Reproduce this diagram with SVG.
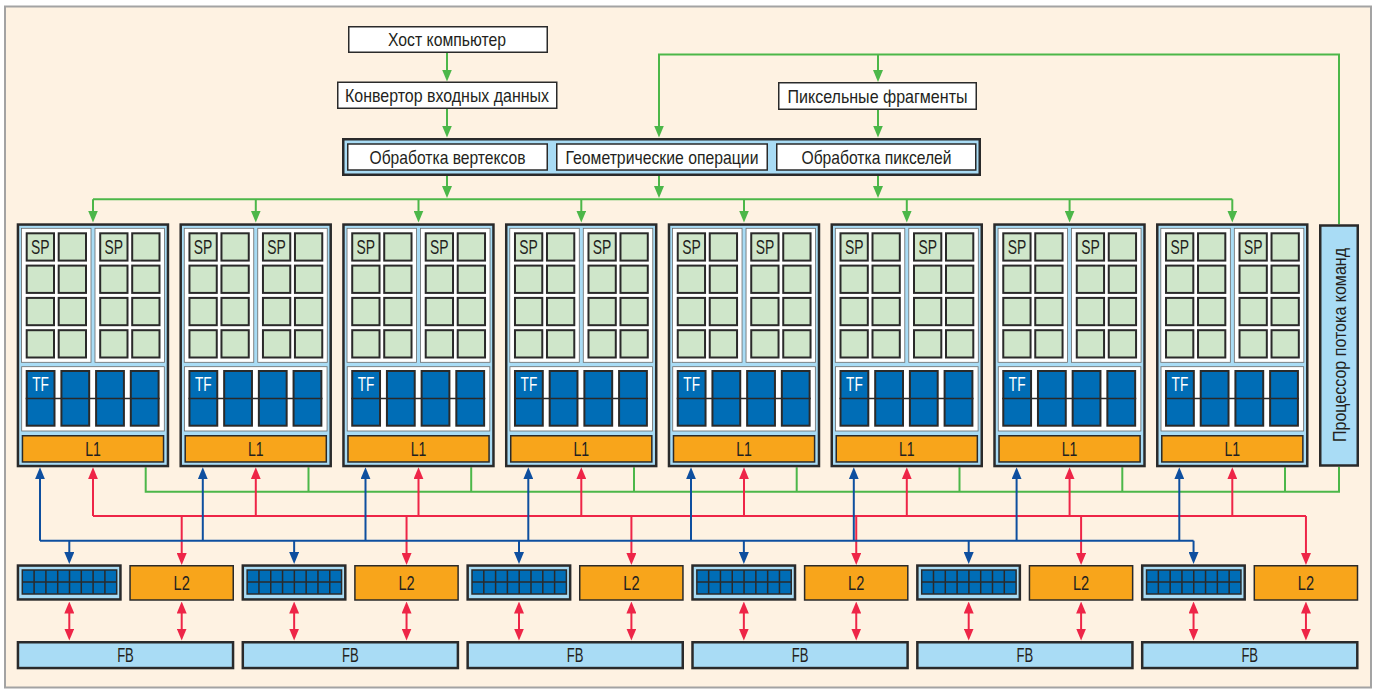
<svg xmlns="http://www.w3.org/2000/svg" width="1375" height="689" viewBox="0 0 1375 689">
  <style>
    .wbox { fill: #ffffff; stroke: #2a2a2a; stroke-width: 1.5; }
    .lbox { fill: #a9dcf5; stroke: #2a2a2a; stroke-width: 2.5; }
    .half { fill: #ffffff; stroke: #6a6a6a; stroke-width: 0.8; }
    .sq { fill: #cfe6ca; stroke: #2a2a2a; stroke-width: 2; }
    .cell { fill: #006db6; stroke: #2a2a2a; stroke-width: 2; }
    .grid { fill: #006db6; stroke: #2a2a2a; stroke-width: 1.5; }
    .gline { fill: none; stroke: #2a2a2a; stroke-width: 1.5; }
    .org { fill: #f8a51b; stroke: #2a2a2a; stroke-width: 1.5; }
    .cg { fill: none; stroke: #4cb749; stroke-width: 2; }
    .cb { fill: none; stroke: #0e4f9f; stroke-width: 2; }
    .cr { fill: none; stroke: #ee2547; stroke-width: 2; }
    text { font-family: "Liberation Sans", Arial, sans-serif; font-size: 18.5px; fill: #231f20; text-anchor: middle; }
    text.s { font-size: 19.5px; }
    text.wt { fill: #ffffff; }
  </style>
  <defs>
    <marker id="ah-g" viewBox="0 0 12 10" refX="6" refY="5" markerWidth="12" markerHeight="10" markerUnits="userSpaceOnUse" orient="auto-start-reverse">
      <path d="M0,0 L12,5 L0,10 z" fill="#4cb749"/>
    </marker>
    <marker id="ah-b" viewBox="0 0 12 10" refX="6" refY="5" markerWidth="12" markerHeight="10" markerUnits="userSpaceOnUse" orient="auto-start-reverse">
      <path d="M0,0 L12,5 L0,10 z" fill="#0e4f9f"/>
    </marker>
    <marker id="ah-r" viewBox="0 0 12 10" refX="6" refY="5" markerWidth="12" markerHeight="10" markerUnits="userSpaceOnUse" orient="auto-start-reverse">
      <path d="M0,0 L12,5 L0,10 z" fill="#ee2547"/>
    </marker>

    <!-- streaming multiprocessor cluster: 2x8 SP, 4 TF units, L1 -->
    <g id="sm-body">
      <rect class="lbox" x="1.25" y="1.25" width="150" height="241.5"/>
      <rect class="half" x="4.8" y="5" width="69.5" height="134"/>
      <rect class="half" x="78.3" y="5" width="69.5" height="134"/>
      <g class="sq">
        <rect x="10" y="10" width="27.3" height="27.3"/>
        <rect x="42" y="10" width="27.3" height="27.3"/>
        <rect x="83.5" y="10" width="27.3" height="27.3"/>
        <rect x="115.5" y="10" width="27.3" height="27.3"/>
        <rect x="10" y="42.3" width="27.3" height="27.3"/>
        <rect x="42" y="42.3" width="27.3" height="27.3"/>
        <rect x="83.5" y="42.3" width="27.3" height="27.3"/>
        <rect x="115.5" y="42.3" width="27.3" height="27.3"/>
        <rect x="10" y="74.6" width="27.3" height="27.3"/>
        <rect x="42" y="74.6" width="27.3" height="27.3"/>
        <rect x="83.5" y="74.6" width="27.3" height="27.3"/>
        <rect x="115.5" y="74.6" width="27.3" height="27.3"/>
        <rect x="10" y="106.9" width="27.3" height="27.3"/>
        <rect x="42" y="106.9" width="27.3" height="27.3"/>
        <rect x="83.5" y="106.9" width="27.3" height="27.3"/>
        <rect x="115.5" y="106.9" width="27.3" height="27.3"/>
      </g>
      <rect class="half" x="5" y="143.4" width="142.6" height="64.3"/>
      <g class="cell">
        <rect x="10" y="147.7" width="27.8" height="54.7"/>
        <rect x="44.7" y="147.7" width="27.8" height="54.7"/>
        <rect x="79.4" y="147.7" width="27.8" height="54.7"/>
        <rect x="114.1" y="147.7" width="27.8" height="54.7"/>
      </g>
      <path class="gline" d="M9,175.2 H143"/>
      <rect class="org" x="5.75" y="212.45" width="141.1" height="26.2"/>
    </g>

    <!-- memory controller block with 8x2 grid -->
    <g id="mc-body">
      <rect class="lbox" x="1.25" y="565.55" width="102.5" height="33.9"/>
      <rect class="grid" x="5.6" y="570" width="94.4" height="24"/>
      <path class="gline" d="M17.4,570V594 M29.2,570V594 M41,570V594 M52.8,570V594 M64.6,570V594 M76.4,570V594 M88.2,570V594 M5.6,582H100"/>
    </g>
  </defs>

  <!-- page -->
  <rect x="0" y="0" width="1375" height="689" fill="#ffffff"/>
  <rect x="5" y="6.5" width="1366" height="681" fill="#fef2e2" stroke="#a3a3a3" stroke-width="2"/>

  <!-- connectors -->
  <g id="connectors">
    <!-- green: control flow -->
    <g class="cg" marker-end="url(#ah-g)">
      <path d="M447,53 V75.5"/>
      <path d="M447,109 V131.5"/>
      <path d="M878,54.5 V76"/>
      <path d="M878,110 V131.5"/>
      <path d="M447,176 V192"/>
      <path d="M659,176 V192"/>
      <path d="M878,176 V192"/>
      <path d="M93,199.3 V216.5"/>
      <path d="M255.8,199.3 V216.5"/>
      <path d="M418.5,199.3 V216.5"/>
      <path d="M581.3,199.3 V216.5"/>
      <path d="M744,199.3 V216.5"/>
      <path d="M906.8,199.3 V216.5"/>
      <path d="M1069.6,199.3 V216.5"/>
      <path d="M1232.3,199.3 V216.5"/>
    </g>
    <path class="cg" d="M659,131.5 V54.5 H1339 V224.3" marker-start="url(#ah-g)"/>
    <path class="cg" d="M93,199.3 H1232.3"/>
    <path class="cg" d="M145.7,467.3 V491.7 H1339 V466.7 M308.5,467.3 V491.7 M471.2,467.3 V491.7 M634,467.3 V491.7 M796.7,467.3 V491.7 M959.5,467.3 V491.7 M1122.3,467.3 V491.7 M1285,467.3 V491.7"/>

    <!-- red: L1 / L2 bus -->
    <path class="cr" d="M93,516 H1306"/>
    <g class="cr" marker-end="url(#ah-r)">
      <path d="M93,516 V473.3"/>
      <path d="M255.8,516 V473.3"/>
      <path d="M418.5,516 V473.3"/>
      <path d="M581.3,516 V473.3"/>
      <path d="M744,516 V473.3"/>
      <path d="M906.8,516 V473.3"/>
      <path d="M1069.6,516 V473.3"/>
      <path d="M1232.3,516 V473.3"/>
      <path d="M181.7,516 V559"/>
      <path d="M406.55,516 V559"/>
      <path d="M631.4,516 V559"/>
      <path d="M856.25,516 V559"/>
      <path d="M1081.1,516 V559"/>
      <path d="M1305.95,516 V559"/>
    </g>

    <!-- blue: texture / memory controller bus -->
    <path class="cb" d="M40,540.7 H1193.55"/>
    <g class="cb" marker-end="url(#ah-b)">
      <path d="M40,540.7 V473.3"/>
      <path d="M202.8,540.7 V473.3"/>
      <path d="M365.5,540.7 V473.3"/>
      <path d="M528.3,540.7 V473.3"/>
      <path d="M691,540.7 V473.3"/>
      <path d="M853.8,540.7 V473.3"/>
      <path d="M1016.6,540.7 V473.3"/>
      <path d="M1179.3,540.7 V473.3"/>
      <path d="M69.3,540.7 V558"/>
      <path d="M294.15,540.7 V558"/>
      <path d="M519,540.7 V558"/>
      <path d="M743.85,540.7 V558"/>
      <path d="M968.7,540.7 V558"/>
      <path d="M1193.55,540.7 V558"/>
    </g>

    <!-- red: memory to frame buffer, both ways -->
    <g class="cr" marker-start="url(#ah-r)" marker-end="url(#ah-r)">
      <path d="M69.3,607.5 V634.5"/>
      <path d="M181.7,607.5 V634.5"/>
      <path d="M294.15,607.5 V634.5"/>
      <path d="M406.55,607.5 V634.5"/>
      <path d="M519,607.5 V634.5"/>
      <path d="M631.4,607.5 V634.5"/>
      <path d="M743.85,607.5 V634.5"/>
      <path d="M856.25,607.5 V634.5"/>
      <path d="M968.7,607.5 V634.5"/>
      <path d="M1081.1,607.5 V634.5"/>
      <path d="M1193.55,607.5 V634.5"/>
      <path d="M1305.95,607.5 V634.5"/>
    </g>
  </g>

  <!-- front end -->
  <g id="host">
    <rect class="wbox" x="348.75" y="26.75" width="198.5" height="25.5"/>
    <text x="447" y="46.2" textLength="118" lengthAdjust="spacingAndGlyphs">Хост компьютер</text>
  </g>
  <g id="input-assembler">
    <rect class="wbox" x="337.75" y="82.25" width="219" height="26"/>
    <text x="447" y="102" textLength="204" lengthAdjust="spacingAndGlyphs">Конвертор входных данных</text>
  </g>
  <g id="pixel-fragments">
    <rect class="wbox" x="778.75" y="82.75" width="197.5" height="26.5"/>
    <text x="877.5" y="102.6" textLength="180" lengthAdjust="spacingAndGlyphs">Пиксельные фрагменты</text>
  </g>
  <g id="thread-dispatch">
    <rect class="lbox" x="343.25" y="139.25" width="636.5" height="35.5"/>
    <rect class="wbox" x="347.75" y="144" width="199.5" height="26"/>
    <rect class="wbox" x="556.75" y="144" width="210.5" height="26"/>
    <rect class="wbox" x="776.75" y="144" width="199" height="26"/>
    <text x="447.5" y="163.8" textLength="156" lengthAdjust="spacingAndGlyphs">Обработка вертексов</text>
    <text x="662" y="163.8" textLength="193" lengthAdjust="spacingAndGlyphs">Геометрические операции</text>
    <text x="876.5" y="163.8" textLength="150" lengthAdjust="spacingAndGlyphs">Обработка пикселей</text>
  </g>

  <!-- command stream processor -->
  <g id="command-processor">
    <rect class="lbox" x="1320.25" y="225.5" width="37.5" height="240"/>
    <text transform="translate(1346,345) rotate(-90)" textLength="194" lengthAdjust="spacingAndGlyphs">Процессор потока команд</text>
  </g>

  <!-- shader clusters -->
  <g id="cluster-1" transform="translate(16.7,223.3)">
    <use href="#sm-body"/>
    <text class="s" x="23.65" y="30.3" textLength="18.5" lengthAdjust="spacingAndGlyphs">SP</text>
    <text class="s" x="97.15" y="30.3" textLength="18.5" lengthAdjust="spacingAndGlyphs">SP</text>
    <text class="s wt" x="23.9" y="167.6" textLength="16.7" lengthAdjust="spacingAndGlyphs">TF</text>
    <text class="s" x="76.3" y="232.6" textLength="15.7" lengthAdjust="spacingAndGlyphs">L1</text>
  </g>
  <g id="cluster-2" transform="translate(179.46,223.3)">
    <use href="#sm-body"/>
    <text class="s" x="23.65" y="30.3" textLength="18.5" lengthAdjust="spacingAndGlyphs">SP</text>
    <text class="s" x="97.15" y="30.3" textLength="18.5" lengthAdjust="spacingAndGlyphs">SP</text>
    <text class="s wt" x="23.9" y="167.6" textLength="16.7" lengthAdjust="spacingAndGlyphs">TF</text>
    <text class="s" x="76.3" y="232.6" textLength="15.7" lengthAdjust="spacingAndGlyphs">L1</text>
  </g>
  <g id="cluster-3" transform="translate(342.22,223.3)">
    <use href="#sm-body"/>
    <text class="s" x="23.65" y="30.3" textLength="18.5" lengthAdjust="spacingAndGlyphs">SP</text>
    <text class="s" x="97.15" y="30.3" textLength="18.5" lengthAdjust="spacingAndGlyphs">SP</text>
    <text class="s wt" x="23.9" y="167.6" textLength="16.7" lengthAdjust="spacingAndGlyphs">TF</text>
    <text class="s" x="76.3" y="232.6" textLength="15.7" lengthAdjust="spacingAndGlyphs">L1</text>
  </g>
  <g id="cluster-4" transform="translate(504.98,223.3)">
    <use href="#sm-body"/>
    <text class="s" x="23.65" y="30.3" textLength="18.5" lengthAdjust="spacingAndGlyphs">SP</text>
    <text class="s" x="97.15" y="30.3" textLength="18.5" lengthAdjust="spacingAndGlyphs">SP</text>
    <text class="s wt" x="23.9" y="167.6" textLength="16.7" lengthAdjust="spacingAndGlyphs">TF</text>
    <text class="s" x="76.3" y="232.6" textLength="15.7" lengthAdjust="spacingAndGlyphs">L1</text>
  </g>
  <g id="cluster-5" transform="translate(667.74,223.3)">
    <use href="#sm-body"/>
    <text class="s" x="23.65" y="30.3" textLength="18.5" lengthAdjust="spacingAndGlyphs">SP</text>
    <text class="s" x="97.15" y="30.3" textLength="18.5" lengthAdjust="spacingAndGlyphs">SP</text>
    <text class="s wt" x="23.9" y="167.6" textLength="16.7" lengthAdjust="spacingAndGlyphs">TF</text>
    <text class="s" x="76.3" y="232.6" textLength="15.7" lengthAdjust="spacingAndGlyphs">L1</text>
  </g>
  <g id="cluster-6" transform="translate(830.5,223.3)">
    <use href="#sm-body"/>
    <text class="s" x="23.65" y="30.3" textLength="18.5" lengthAdjust="spacingAndGlyphs">SP</text>
    <text class="s" x="97.15" y="30.3" textLength="18.5" lengthAdjust="spacingAndGlyphs">SP</text>
    <text class="s wt" x="23.9" y="167.6" textLength="16.7" lengthAdjust="spacingAndGlyphs">TF</text>
    <text class="s" x="76.3" y="232.6" textLength="15.7" lengthAdjust="spacingAndGlyphs">L1</text>
  </g>
  <g id="cluster-7" transform="translate(993.26,223.3)">
    <use href="#sm-body"/>
    <text class="s" x="23.65" y="30.3" textLength="18.5" lengthAdjust="spacingAndGlyphs">SP</text>
    <text class="s" x="97.15" y="30.3" textLength="18.5" lengthAdjust="spacingAndGlyphs">SP</text>
    <text class="s wt" x="23.9" y="167.6" textLength="16.7" lengthAdjust="spacingAndGlyphs">TF</text>
    <text class="s" x="76.3" y="232.6" textLength="15.7" lengthAdjust="spacingAndGlyphs">L1</text>
  </g>
  <g id="cluster-8" transform="translate(1156.02,223.3)">
    <use href="#sm-body"/>
    <text class="s" x="23.65" y="30.3" textLength="18.5" lengthAdjust="spacingAndGlyphs">SP</text>
    <text class="s" x="97.15" y="30.3" textLength="18.5" lengthAdjust="spacingAndGlyphs">SP</text>
    <text class="s wt" x="23.9" y="167.6" textLength="16.7" lengthAdjust="spacingAndGlyphs">TF</text>
    <text class="s" x="76.3" y="232.6" textLength="15.7" lengthAdjust="spacingAndGlyphs">L1</text>
  </g>

  <!-- memory partitions: controller, L2, frame buffer -->
  <g id="mc-1" transform="translate(16.7,0)"><use href="#mc-body"/></g>
  <g id="l2-1" transform="translate(16.7,0)">
    <rect class="org" x="113.35" y="565.75" width="103.2" height="34.25"/>
    <text class="s" x="165" y="590" textLength="16.3" lengthAdjust="spacingAndGlyphs">L2</text>
  </g>
  <g id="fb-1" transform="translate(16.7,0)">
    <rect class="lbox" x="1.25" y="642.25" width="215.1" height="25.8"/>
    <text class="s" x="108.8" y="661.8" textLength="16.7" lengthAdjust="spacingAndGlyphs">FB</text>
  </g>

  <g id="mc-2" transform="translate(241.55,0)"><use href="#mc-body"/></g>
  <g id="l2-2" transform="translate(241.55,0)">
    <rect class="org" x="113.35" y="565.75" width="103.2" height="34.25"/>
    <text class="s" x="165" y="590" textLength="16.3" lengthAdjust="spacingAndGlyphs">L2</text>
  </g>
  <g id="fb-2" transform="translate(241.55,0)">
    <rect class="lbox" x="1.25" y="642.25" width="215.1" height="25.8"/>
    <text class="s" x="108.8" y="661.8" textLength="16.7" lengthAdjust="spacingAndGlyphs">FB</text>
  </g>

  <g id="mc-3" transform="translate(466.4,0)"><use href="#mc-body"/></g>
  <g id="l2-3" transform="translate(466.4,0)">
    <rect class="org" x="113.35" y="565.75" width="103.2" height="34.25"/>
    <text class="s" x="165" y="590" textLength="16.3" lengthAdjust="spacingAndGlyphs">L2</text>
  </g>
  <g id="fb-3" transform="translate(466.4,0)">
    <rect class="lbox" x="1.25" y="642.25" width="215.1" height="25.8"/>
    <text class="s" x="108.8" y="661.8" textLength="16.7" lengthAdjust="spacingAndGlyphs">FB</text>
  </g>

  <g id="mc-4" transform="translate(691.25,0)"><use href="#mc-body"/></g>
  <g id="l2-4" transform="translate(691.25,0)">
    <rect class="org" x="113.35" y="565.75" width="103.2" height="34.25"/>
    <text class="s" x="165" y="590" textLength="16.3" lengthAdjust="spacingAndGlyphs">L2</text>
  </g>
  <g id="fb-4" transform="translate(691.25,0)">
    <rect class="lbox" x="1.25" y="642.25" width="215.1" height="25.8"/>
    <text class="s" x="108.8" y="661.8" textLength="16.7" lengthAdjust="spacingAndGlyphs">FB</text>
  </g>

  <g id="mc-5" transform="translate(916.1,0)"><use href="#mc-body"/></g>
  <g id="l2-5" transform="translate(916.1,0)">
    <rect class="org" x="113.35" y="565.75" width="103.2" height="34.25"/>
    <text class="s" x="165" y="590" textLength="16.3" lengthAdjust="spacingAndGlyphs">L2</text>
  </g>
  <g id="fb-5" transform="translate(916.1,0)">
    <rect class="lbox" x="1.25" y="642.25" width="215.1" height="25.8"/>
    <text class="s" x="108.8" y="661.8" textLength="16.7" lengthAdjust="spacingAndGlyphs">FB</text>
  </g>

  <g id="mc-6" transform="translate(1140.95,0)"><use href="#mc-body"/></g>
  <g id="l2-6" transform="translate(1140.95,0)">
    <rect class="org" x="113.35" y="565.75" width="103.2" height="34.25"/>
    <text class="s" x="165" y="590" textLength="16.3" lengthAdjust="spacingAndGlyphs">L2</text>
  </g>
  <g id="fb-6" transform="translate(1140.95,0)">
    <rect class="lbox" x="1.25" y="642.25" width="215.1" height="25.8"/>
    <text class="s" x="108.8" y="661.8" textLength="16.7" lengthAdjust="spacingAndGlyphs">FB</text>
  </g>
</svg>
